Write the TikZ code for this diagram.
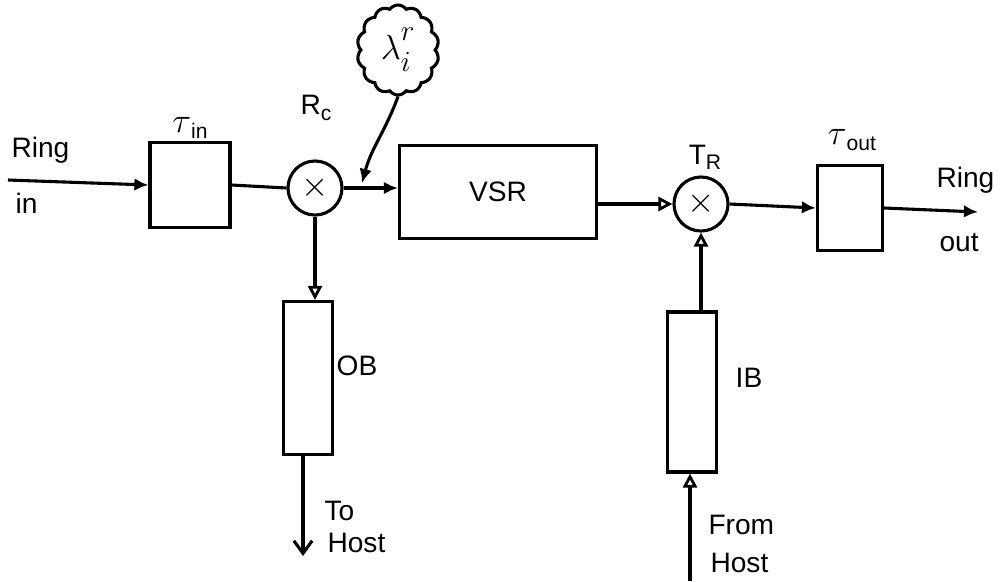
\documentclass[tikz,border=0pt]{standalone}
\usepackage{fontspec}
\setmainfont{Liberation Sans}
\usetikzlibrary{arrows.meta,shapes.symbols}
\newcommand{\sub}[1]{\raisebox{-0.35ex}{\fontsize{15}{15}\selectfont #1}}
\begin{document}
\begin{tikzpicture}[x=0.025cm,y=-0.025cm,
  line width=2.2pt,
  every node/.style={font=\fontsize{20}{23}\selectfont},
  blk/.style={draw,line width=2.2pt,inner sep=0pt},
  mix/.style={draw,circle,line width=2.2pt,minimum size=1.35cm,inner sep=0pt,font=\fontsize{28}{28}\selectfont},
  fill arrow/.style={-{Latex[length=10pt,width=9pt]}},
  open arrow/.style={-{Triangle[open,length=10pt,width=10pt,line width=2pt]}},
  barb arrow/.style={-{Straight Barb[length=9pt,width=13pt]}},
  lbl/.style={inner sep=0pt}
]
\useasboundingbox (0,0) rectangle (1006,581);

% blocks
\node[blk,minimum width=2cm,minimum height=2.125cm] (tauin) at (190,185) {};
\node[mix] (rc) at (315,188) {$\times$};
\node[blk,minimum width=4.925cm,minimum height=2.325cm] (vsr) at (498,192) {VSR};
\node[mix] (tr) at (701,204) {$\times$};
\node[blk,minimum width=1.625cm,minimum height=2.125cm] (tauout) at (850,208) {};
\node[blk,minimum width=1.225cm,minimum height=3.825cm] (ob) at (308,378) {};
\node[blk,minimum width=1.225cm,minimum height=4cm] (ib) at (692,392) {};
\node[draw,cloud,cloud puffs=14,cloud puff arc=110,aspect=0.9,line width=2.2pt,
      minimum width=2.05cm,minimum height=2.25cm,inner sep=0pt,
      font=\fontsize{30}{30}\selectfont] (cloud) at (398,50)
      {$\lambda^{\raisebox{4pt}{$\scriptstyle r$}}_{\raisebox{-3pt}{$\scriptstyle i$}}$};

% free ends
\coordinate (ringin) at (8,180);
\coordinate (ringout) at (978,212);
\coordinate (tohost) at (303,556);
\coordinate (fromhost) at (690,581);
\coordinate (lamb) at (362,183);

% connectors
\draw[fill arrow] (ringin) -- (tauin.west);
\draw (tauin.east) -- (rc.west);
\draw[fill arrow] (rc.east) -- (vsr.west |- rc.east);
\draw[fill arrow] (cloud.south) to[out=-110,in=75] (lamb);
\draw[open arrow] (vsr.east |- tr.west) -- (tr.west);
\draw[fill arrow] (tr.east) -- (tauout.west);
\draw[fill arrow] (tauout.east) -- (ringout);
\draw[open arrow] (rc.south) -- (rc.south |- ob.north);
\draw[barb arrow] (ob.south -| tohost) -- (tohost);
\draw[open arrow] (ib.north -| tr.south) -- (tr.south);
\draw[open arrow] (fromhost) -- (fromhost |- ib.south);

% labels
\node[lbl] (lin) at (190,128) {\fontsize{26}{26}\selectfont$\tau$\sub{in}};
\node[lbl] (lrc) at (316,108) {R\sub{c}};
\node[lbl] (ltr) at (705,157) {T\sub{R}};
\node[lbl] (lout) at (852,140) {\fontsize{26}{26}\selectfont$\tau$\sub{out}};
\node[lbl,anchor=west] (lring1) at (10,150) {Ring};
\node[lbl,anchor=west] (lin2) at (14,203) {in};
\node[lbl,anchor=west] (lring2) at (935,180) {Ring};
\node[lbl,anchor=west] (lout2) at (938,243) {out};
\node[lbl] (lob) at (357,366) {OB};
\node[lbl] (lib) at (749,378) {IB};
\node[lbl,anchor=west] (lto) at (323,511) {To};
\node[lbl,anchor=west] (lh1) at (326,543) {Host};
\node[lbl,anchor=west] (lfrom) at (707,525) {From};
\node[lbl,anchor=west] (lh2) at (709,563) {Host};
\end{tikzpicture}
\end{document}
